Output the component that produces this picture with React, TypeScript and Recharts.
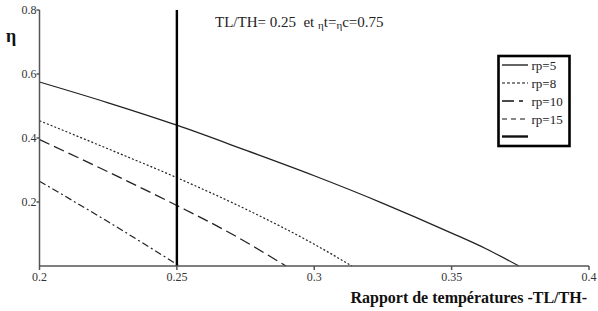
import { Line, LineChart, XAxis, YAxis } from "recharts";

// values (TL/TH on x, efficiency on y)
const T_RP5 = [0.2, 0.225, 0.25, 0.275, 0.3, 0.325, 0.35, 0.3625, 0.3745];
const ETA_RP5 = [0.575, 0.51, 0.44, 0.362, 0.282, 0.196, 0.103, 0.054, 0];
const T_RP8 = [0.2, 0.225, 0.25, 0.275, 0.3, 0.3137];
const ETA_RP8 = [0.454, 0.366, 0.276, 0.178, 0.068, 0];
const T_RP10 = [0.2, 0.225, 0.25, 0.27, 0.2897];
const ETA_RP10 = [0.395, 0.294, 0.189, 0.1, 0];
const T_RP15 = [0.2, 0.225, 0.251];
const ETA_RP15 = [0.265, 0.138, 0];
const T_MARK = [0.25, 0.25];
const ETA_MARK = [0, 0.8];

const X_TICKS = [0.2, 0.25, 0.3, 0.35, 0.4];
const Y_TICKS = [0.2, 0.4, 0.6, 0.8];
const NAMES = ["rp=5", "rp=8", "rp=10", "rp=15", ""];

const STYLES = [
  { dash: undefined, width: 1.3, legendDash: undefined },
  { dash: "2 2", width: 1.2, legendDash: "3 2" },
  { dash: "11 5", width: 1.3, legendDash: "12 5 4 5" },
  { dash: "7 3 2 3", width: 1.2, legendDash: "5 4" },
  { dash: undefined, width: 2.4, legendDash: undefined },
];

const zip = (ts: number[], es: number[]) => ts.map((t, i) => ({ t, eta: es[i] }));

const series = [
  zip(T_RP5, ETA_RP5),
  zip(T_RP8, ETA_RP8),
  zip(T_RP10, ETA_RP10),
  zip(T_RP15, ETA_RP15),
  zip(T_MARK, ETA_MARK),
];

const FONT = "'Liberation Serif', 'Times New Roman', Times, serif";

export default function App() {
  return (
    <div style={{ position: "absolute", left: 0, top: 0, width: 598, height: 311, background: "#fff" }}>
      <LineChart
        width={598}
        height={311}
        margin={{ top: 10, right: 9, bottom: 14, left: 0 }}
      >
        <XAxis
          type="number"
          dataKey="t"
          domain={[0.2, 0.4]}
          ticks={X_TICKS}
          height={31}
          stroke="#555"
          strokeWidth={1.5}
          tickSize={4}
          tickMargin={2}
          tick={{ fill: "#333", fontSize: 12, fontFamily: FONT }}
          allowDataOverflow
        />
        <YAxis
          type="number"
          domain={[0, 0.8]}
          ticks={Y_TICKS}
          width={39.5}
          stroke="#555"
          strokeWidth={1.5}
          tickSize={3}
          tickMargin={0}
          tick={{ fill: "#333", fontSize: 12, fontFamily: FONT }}
        />
        {series.map((d, i) => (
          <Line
            key={i}
            data={d}
            dataKey="eta"
            name={NAMES[i] || "TL/TH=0.25"}
            type="monotone"
            stroke={i === 4 ? "#000" : "#222"}
            strokeWidth={STYLES[i].width}
            strokeDasharray={STYLES[i].dash}
            dot={false}
            isAnimationActive={false}
          />
        ))}
      </LineChart>
      <svg
        width={598}
        height={311}
        style={{ position: "absolute", left: 0, top: 0, pointerEvents: "none" }}
      >
        <text x={215} y={27} fontSize={15} fill="#222" style={{ fontFamily: FONT }}>
          {"TL/TH= 0.25\u00a0\u00a0et "}
          <tspan fontSize={11} dy={2}>η</tspan>
          <tspan dy={-2}>t=</tspan>
          <tspan fontSize={11} dy={2}>η</tspan>
          <tspan dy={-2}>c=0.75</tspan>
        </text>
        <text x={11} y={42} fontSize={18} fontWeight="bold" textAnchor="middle" fill="#111" style={{ fontFamily: FONT }}>
          η
        </text>
        <text x={587} y={303} fontSize={16} fontWeight="bold" textAnchor="end" fill="#111" style={{ fontFamily: FONT }}>
          Rapport de températures -TL/TH-
        </text>
        <rect x={498.5} y={56} width={71} height={90} fill="#fff" stroke="#000" strokeWidth={2.6} />
        {NAMES.map((n, i) => {
          const y = [65, 83, 101, 119, 136.5][i];
          return (
            <g key={i}>
              <line
                x1={502}
                x2={528}
                y1={y}
                y2={y}
                stroke="#111"
                strokeWidth={STYLES[i].width}
                strokeDasharray={STYLES[i].legendDash}
              />
              {n && (
                <text x={531.5} y={y + 4.5} fontSize={13} fill="#222" style={{ fontFamily: FONT }}>
                  {n}
                </text>
              )}
            </g>
          );
        })}
      </svg>
    </div>
  );
}
